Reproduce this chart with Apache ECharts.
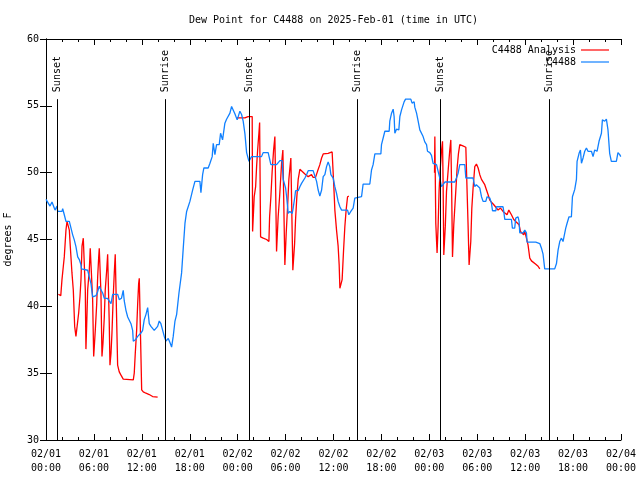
<!DOCTYPE html>
<html><head><meta charset="utf-8">
<script src="https://cdn.jsdelivr.net/npm/echarts@6/dist/echarts.min.js"></script>
<style>html,body{margin:0;padding:0;background:#fff}#c{width:640px;height:480px}</style>
</head><body><div id="c"></div>
<script>
const titleText = 'Dew Point for C4488 on 2025-Feb-01 (time in UTC)';
const yAxisName = 'degrees F';
const analysisName = 'C4488 Analysis';
const obsName = 'C4488';
// x values: hours since 2025-02-01 00:00 UTC
const analysisNight1 = [[1.55,40.9],[1.85,40.8],[1.9,40.7],[2.0,42.0],[2.17,43.0],[2.29,43.7],[2.5,45.7],[2.63,46.35],[2.84,46.35],[2.92,45.7],[3.04,44.5],[3.25,42.5],[3.42,41.2],[3.59,38.5],[3.75,37.75],[3.97,37.75],[4.09,39.5],[4.26,40.75],[4.38,42.0],[4.51,44.5],[4.67,45.1],[4.84,45.1],[4.92,41.25],[5.0,36.8],[5.09,38.5],[5.22,41.25],[5.42,42.7],[5.54,44.35],[5.72,44.4],[5.84,40.5],[5.97,36.25],[6.05,37.0],[6.17,38.2],[6.35,40.2],[6.47,42.2],[6.6,43.7],[6.67,44.35],[6.8,44.35],[6.88,41.0],[7.01,36.25],[7.13,37.2],[7.3,39.2],[7.42,41.25],[7.6,42.7],[7.72,43.9],[7.85,43.9],[7.92,38.75],[8.01,35.6],[8.14,36.5],[8.26,38.0],[8.42,40.75],[8.55,42.5],[8.67,43.9],[8.85,43.9],[8.97,35.6],[9.17,35.1],[9.39,34.85],[9.67,34.55],[10.93,34.5],[11.05,35.0],[11.18,36.5],[11.35,38.2],[11.48,40.2],[11.6,41.7],[11.68,42.1],[11.8,42.1],[11.98,33.75],[12.18,33.6],[12.52,33.5],[12.93,33.4],[13.35,33.25],[13.98,33.2]];
const analysisNight2 = [[23.9,54.1],[24.9,54.1],[25.3,54.2],[25.82,54.2],[25.87,45.6],[26.0,45.6],[26.07,48.2],[26.25,48.95],[26.37,50.45],[26.5,51.7],[26.66,52.95],[26.75,53.75],[26.8,53.75],[26.87,45.2],[27.2,45.1],[27.62,45.0],[27.91,44.85],[28.0,46.7],[28.16,48.2],[28.32,50.1],[28.5,51.7],[28.66,52.7],[28.79,52.7],[28.87,44.1],[28.98,44.1],[29.07,46.7],[29.25,48.2],[29.5,50.7],[29.66,51.7],[29.79,51.7],[29.91,43.1],[30.0,43.1],[30.08,45.5],[30.25,47.45],[30.41,49.5],[30.66,51.1],[30.8,51.1],[30.91,42.7],[31.02,42.7],[31.13,44.7],[31.25,46.5],[31.41,48.2],[31.58,49.5],[31.79,50.25],[32.42,49.9],[32.83,49.7],[33.25,49.85],[33.45,49.65],[33.75,49.65],[34.0,50.1],[34.29,50.6],[34.51,51.1],[34.71,51.4],[35.33,51.45],[35.83,51.55],[35.96,51.55],[36.05,48.85],[36.17,47.2],[36.38,45.7],[36.58,44.5],[36.71,43.1],[36.8,41.35],[37.01,41.35],[37.08,42.0],[37.26,44.2],[37.42,45.95],[37.58,47.2],[37.76,48.2],[37.92,48.25]];
const analysisNight3 = [[48.65,50.0],[48.69,52.7],[48.75,52.7],[48.81,46.2],[48.97,44.0],[49.05,44.0],[49.1,46.0],[49.22,48.6],[49.31,49.8],[49.52,51.6],[49.65,52.35],[49.7,52.35],[49.72,49.5],[49.81,43.85],[49.9,43.85],[50.0,46.0],[50.15,48.6],[50.4,50.5],[50.56,51.7],[50.69,52.45],[50.75,52.45],[50.8,48.5],[50.9,43.7],[51.0,43.7],[51.06,46.1],[51.31,48.6],[51.48,50.35],[51.65,51.45],[51.81,52.1],[52.2,52.0],[52.57,51.9],[52.73,51.8],[52.85,46.1],[52.98,43.1],[53.1,43.1],[53.19,44.85],[53.32,47.35],[53.48,48.85],[53.69,50.45],[53.9,50.65],[54.11,50.35],[54.32,49.85],[54.53,49.5],[54.73,49.4],[54.94,49.1],[55.16,48.7],[55.36,48.35],[55.57,47.95],[55.78,47.8],[56.07,47.6],[56.28,47.45],[56.61,47.2],[56.91,47.35],[57.23,47.1],[57.73,46.85],[57.95,47.2],[58.28,46.85],[58.57,46.5],[58.82,46.35],[59.24,46.1],[59.41,45.6],[59.66,45.65],[59.82,45.35],[59.95,45.6],[60.16,45.1],[60.36,44.6],[60.58,43.6],[60.79,43.4],[60.99,43.35],[61.33,43.15],[61.62,43.0],[61.83,42.8]];
const observed = [[0,48.0],[0.5,47.5],[0.75,47.8],[1.13,47.2],[1.38,47.5],[1.46,47.1],[2.0,47.1],[2.09,47.3],[2.29,46.85],[2.5,46.35],[2.92,46.35],[3.13,45.85],[3.34,45.35],[3.54,44.97],[3.75,44.47],[3.97,43.7],[4.17,43.5],[4.38,43.1],[4.44,42.8],[5.22,42.7],[5.42,42.2],[5.63,41.7],[5.84,40.7],[6.26,40.8],[6.47,41.1],[6.67,41.5],[6.82,41.3],[7.1,41.0],[7.3,40.6],[7.7,40.6],[7.92,40.5],[8.14,40.2],[8.35,40.9],[8.97,40.9],[9.17,40.5],[9.45,40.6],[9.67,41.2],[9.8,40.4],[10.01,39.7],[10.23,39.2],[10.43,39.1],[10.64,38.7],[10.85,38.2],[10.93,37.4],[11.2,37.5],[11.48,37.75],[11.89,38.0],[12.1,38.2],[12.3,39.0],[12.52,39.4],[12.73,39.9],[12.93,38.7],[13.14,38.5],[13.55,38.2],[13.77,38.1],[13.98,38.5],[14.18,38.9],[14.39,38.7],[14.61,38.2],[14.81,37.75],[15.02,37.4],[15.31,37.6],[15.52,37.3],[15.73,36.95],[15.93,37.75],[16.15,38.9],[16.36,39.4],[16.65,41.0],[16.98,42.5],[17.18,44.3],[17.4,46.2],[17.61,47.1],[18.02,47.85],[18.36,48.7],[18.65,49.35],[19.27,49.35],[19.4,48.5],[19.61,49.85],[19.77,50.35],[20.31,50.35],[20.53,50.7],[20.81,51.2],[20.94,52.2],[21.15,51.35],[21.36,52.1],[21.69,52.1],[21.86,52.95],[22.11,52.45],[22.4,53.7],[22.61,54.0],[23.03,54.45],[23.24,54.95],[23.44,54.95],[23.65,54.4],[23.94,53.95],[24.28,54.6],[24.49,54.35],[24.69,53.85],[24.91,52.9],[25.12,51.5],[25.41,50.85],[25.74,51.2],[26.99,51.2],[27.19,51.5],[27.82,51.5],[28.16,50.6],[28.87,50.6],[29.29,50.9],[29.57,50.9],[29.7,49.5],[30.0,48.85],[30.13,48.2],[30.33,46.95],[30.54,47.1],[30.83,46.95],[30.95,47.35],[31.16,48.2],[31.25,48.65],[31.58,48.65],[31.79,48.95],[32.0,49.2],[32.42,49.6],[32.63,49.85],[32.83,50.15],[33.45,50.15],[33.67,49.75],[33.88,49.35],[34.08,48.7],[34.29,48.25],[34.51,48.7],[34.71,49.7],[34.92,49.85],[35.13,50.45],[35.33,50.8],[35.54,50.45],[35.67,49.85],[35.96,49.6],[36.17,48.95],[36.38,48.45],[36.58,47.85],[36.8,47.45],[37.01,47.2],[37.76,47.2],[37.92,46.85],[38.17,47.1],[38.46,47.35],[38.67,48.1],[39.51,48.2],[39.71,49.15],[40.55,49.15],[40.76,50.2],[40.96,50.6],[41.18,51.4],[41.93,51.4],[42.01,52.1],[42.43,53.1],[42.97,53.1],[43.05,53.85],[43.27,54.45],[43.47,54.75],[43.59,54.2],[43.68,52.95],[43.89,53.25],[44.18,53.2],[44.31,54.2],[44.52,54.7],[44.84,55.3],[45.02,55.5],[45.68,55.5],[45.84,55.2],[45.97,55.1],[46.1,55.3],[46.18,54.9],[46.4,54.45],[46.6,53.85],[46.81,53.2],[47.02,53.1],[47.22,52.7],[47.43,52.3],[47.65,52.1],[47.77,51.6],[48.06,51.5],[48.27,51.3],[48.47,50.7],[48.69,50.8],[48.9,50.6],[49.1,50.1],[49.31,49.6],[49.52,48.95],[49.72,49.1],[49.94,49.3],[51.19,49.3],[51.4,49.6],[51.6,49.95],[51.81,50.6],[52.44,50.6],[52.57,49.6],[53.48,49.6],[53.69,48.95],[53.88,49.1],[54.11,49.2],[54.32,48.85],[54.53,48.2],[54.73,47.85],[55.07,47.85],[55.23,48.2],[55.57,48.1],[55.78,47.7],[55.91,47.15],[56.32,47.15],[56.41,47.45],[57.23,47.45],[57.32,47.1],[57.45,46.5],[58.28,46.5],[58.4,45.85],[58.69,45.85],[58.82,46.6],[59.11,46.7],[59.24,46.35],[59.32,45.5],[59.74,45.5],[59.95,45.7],[60.16,45.5],[60.24,44.8],[61.33,44.8],[61.49,44.7],[61.83,44.7],[62.04,44.35],[62.24,43.9],[62.45,42.8],[63.7,42.8],[63.92,43.2],[64.12,44.2],[64.33,44.85],[64.54,45.1],[64.74,44.85],[64.96,44.85],[65.08,45.85],[65.24,46.2],[65.49,46.7],[65.79,46.7],[65.92,48.2],[66.21,48.75],[66.42,49.5],[66.5,50.85],[66.75,51.45],[66.92,51.7],[67.05,50.7],[67.25,51.1],[67.46,51.6],[67.67,51.85],[67.87,51.6],[68.3,51.6],[68.5,51.2],[68.71,51.7],[69.0,51.6],[69.25,52.35],[69.55,52.95],[69.67,53.95],[69.96,53.85],[70.17,54.0],[70.37,53.2],[70.58,51.45],[70.79,50.85],[71.42,50.85],[71.62,51.5],[71.84,51.35],[71.97,51.2]];
const sunsetHours = [1.42, 25.45, 49.36];
const sunriseHours = [14.93, 38.96, 62.99];
const xMin = 0, xMax = 72, xStep = 6;
const yMin = 30, yMax = 60, yStep = 5;
const sunLineTop = 55.5;

const FONT = '"DejaVu Sans Mono", "Liberation Mono", monospace';
const analysis = analysisNight1.concat([[18, '-']], analysisNight2, [[43, '-']], analysisNight3);

function xLabel(v) {
  const d = new Date(Date.UTC(2025, 1, 1) + v * 3600000);
  const p = n => String(n).padStart(2, '0');
  return p(d.getUTCMonth() + 1) + '/' + p(d.getUTCDate()) + '\n' + p(d.getUTCHours()) + ':' + p(d.getUTCMinutes());
}

const sunMarks = [];
sunsetHours.forEach(h => sunMarks.push({h: h, name: 'Sunset'}));
sunriseHours.forEach(h => sunMarks.push({h: h, name: 'Sunrise'}));

const lineIcon = 'path://M0,0 L28,0 L28,1.2 L0,1.2 Z';
const legendBase = {orient: 'vertical', align: 'right', itemWidth: 28, itemHeight: 10, selectedMode: false,
  icon: lineIcon, textStyle: {fontFamily: FONT, fontSize: 10, color: '#000'}};
const axisLine = {show: true, lineStyle: {color: '#000', width: 1}};
const chart = echarts.init(document.getElementById('c'), null, {renderer: 'canvas'});
chart.setOption({
  animation: false,
  backgroundColor: '#fff',
  title: {text: titleText, left: 184, top: 10, textStyle: {fontFamily: FONT, fontSize: 10, fontWeight: 'normal', color: '#000'}},
  grid: {left: 46, right: 19, top: 39, bottom: 40, containLabel: false, outerBoundsMode: 'none'},
  legend: [
    Object.assign({data: [analysisName], right: 26, top: 40}, legendBase),
    Object.assign({data: [obsName], right: 26, top: 52}, legendBase)
  ],
  xAxis: [
    {type: 'value', min: xMin, max: xMax, interval: xStep, axisLine: axisLine,
     axisTick: {show: true, inside: true, length: 6, lineStyle: {color: '#000'}},
     minorTick: {show: true, splitNumber: 3, length: 3, lineStyle: {color: '#000'}},
     axisLabel: {formatter: xLabel, fontFamily: FONT, fontSize: 10, color: '#000', lineHeight: 13.5, margin: 8, showMinLabel: true, showMaxLabel: true},
     splitLine: {show: false}},
    {type: 'value', position: 'top', min: xMin, max: xMax, interval: xStep, axisLine: axisLine,
     axisTick: {show: true, inside: true, length: 6, lineStyle: {color: '#000'}},
     minorTick: {show: true, splitNumber: 3, length: 3, lineStyle: {color: '#000'}},
     axisLabel: {show: false}, splitLine: {show: false}}
  ],
  yAxis: [
    {type: 'value', min: yMin, max: yMax, interval: yStep, axisLine: axisLine,
     axisTick: {show: true, inside: true, length: 6, lineStyle: {color: '#000'}},
     axisLabel: {fontFamily: FONT, fontSize: 10, color: '#000', margin: 7},
     name: yAxisName, nameLocation: 'middle', nameRotate: 90, nameGap: 33,
     nameTextStyle: {fontFamily: FONT, fontSize: 10, color: '#000'},
     splitLine: {show: false}},
    {type: 'value', position: 'right', min: yMin, max: yMax, interval: yStep, axisLine: axisLine,
     axisTick: {show: true, inside: true, length: 6, lineStyle: {color: '#000'}},
     axisLabel: {show: false}, splitLine: {show: false}}
  ],
  series: [
    {name: analysisName, type: 'line', data: analysis, symbol: 'none', showSymbol: false, connectNulls: false,
     color: '#ff0000', lineStyle: {color: '#ff0000', width: 1.3}, silent: true, z: 2},
    {name: obsName, type: 'line', data: observed, symbol: 'none', showSymbol: false,
     color: '#1080ff', lineStyle: {color: '#1080ff', width: 1.3}, silent: true, z: 3},
    {name: 'sun', type: 'line', data: [], symbol: 'none', silent: true, z: 4,
     markLine: {silent: true, symbol: 'none', animation: false,
       lineStyle: {color: '#000', width: 1, type: 'solid'}, label: {show: false},
       data: sunMarks.map(m => [{coord: [m.h, yMin]}, {coord: [m.h, sunLineTop]}])},
     markPoint: {silent: true, symbol: 'circle', symbolSize: 1, itemStyle: {color: 'rgba(0,0,0,0)'},
       label: {show: true, formatter: '{b}', position: 'inside', align: 'left', verticalAlign: 'middle', rotate: 90,
         padding: [0, 0, 0, 7], color: '#000', fontFamily: FONT, fontSize: 10, textBorderWidth: 0},
       data: sunMarks.map(m => ({name: m.name, coord: [m.h, sunLineTop]}))}}
  ]
});
</script>
</body></html>
